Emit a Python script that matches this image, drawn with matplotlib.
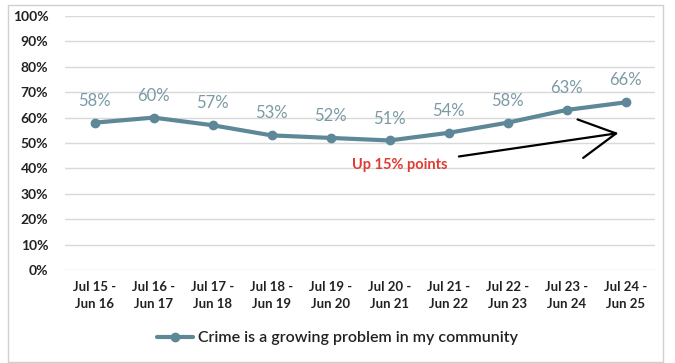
import matplotlib
matplotlib.use("Agg")
import matplotlib.pyplot as plt
from matplotlib.patches import Rectangle

categories = ["Jul 15 -\nJun 16", "Jul 16 -\nJun 17", "Jul 17 -\nJun 18", "Jul 18 -\nJun 19",
              "Jul 19 -\nJun 20", "Jul 20 -\nJun 21", "Jul 21 -\nJun 22", "Jul 22 -\nJun 23",
              "Jul 23 -\nJun 24", "Jul 24 -\nJun 25"]
values = [58, 60, 57, 53, 52, 51, 54, 58, 63, 66]
series_name = "Crime is a growing problem in my community"
y_ticks = [0, 10, 20, 30, 40, 50, 60, 70, 80, 90, 100]
annotation_text = "Up 15% points"

plt.rcParams['font.family'] = ['Lato', 'DejaVu Sans']

fig = plt.figure(figsize=(6.75, 3.63), dpi=100)
fig.patch.set_facecolor('white')
fig.patches.append(Rectangle((8/675, 1/363), 655/675, 357/363, transform=fig.transFigure,
                             fill=False, edgecolor='#d0d0d0', linewidth=1))

ax = fig.add_axes([65/675, 93/363, 590/675, 254/363])
x = list(range(len(categories)))
line_color = '#5e8898'
label_color = '#7b9aa5'
ax.plot(x, values, color=line_color, linewidth=3, marker='o', markersize=6,
        label=series_name, solid_capstyle='round')
for xi, v in zip(x, values):
    ax.annotate(f"{v}%", (xi, v), xytext=(0, 10), textcoords='offset points',
                ha='center', va='bottom', fontsize=12, color=label_color)

ax.set_xlim(-0.5, len(categories) - 0.5)
ax.set_ylim(0, 100)
ax.set_yticks(y_ticks)
ax.set_yticklabels([f"{t}%" for t in y_ticks], fontsize=10, fontweight='bold', color='#222222')
ax.set_xticks(x)
ax.set_xticklabels(categories, fontsize=9.5, fontweight='bold', color='#222222', linespacing=1.5)
ax.tick_params(axis='both', length=0)
ax.tick_params(axis='y', pad=12)
ax.tick_params(axis='x', pad=8)
ax.grid(axis='y', color='#d9d9d9', linewidth=1)
ax.set_axisbelow(True)
for s in ax.spines.values():
    s.set_visible(False)

ax.annotate(annotation_text, xy=(8.88, 53.9), xytext=(5.18, 41.3),
            ha='center', va='center', fontsize=10.5, fontweight='bold', color='#e03c31',
            arrowprops=dict(arrowstyle='->,head_length=2.6,head_width=1.4', color='black',
                            lw=1.6, shrinkA=6, shrinkB=0, mutation_scale=10))

fig.legend(loc='center', bbox_to_anchor=(0.5, 25/363), ncol=1, frameon=False,
           prop={'size': 11.5, 'weight': 'semibold'}, handlelength=2.3, handletextpad=0.3,
           labelcolor='#222222')

fig.savefig("out.png", dpi=100, facecolor='white')
